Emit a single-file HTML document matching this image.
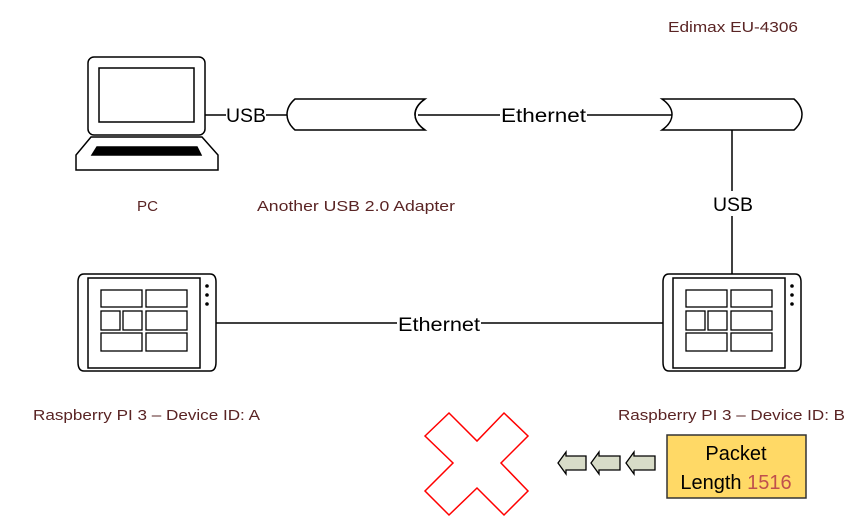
<!DOCTYPE html>
<html><head><meta charset="utf-8"><style>
html,body{margin:0;padding:0;background:#fff;}
svg{display:block;}
text{font-family:"Liberation Sans",sans-serif;}
</style></head><body>
<svg width="864" height="521" viewBox="0 0 864 521" xmlns="http://www.w3.org/2000/svg">
<g fill="#5a2424" font-size="15">
<text x="668" y="32" textLength="130" lengthAdjust="spacingAndGlyphs">Edimax EU-4306</text>
<text x="137" y="211" textLength="21" lengthAdjust="spacingAndGlyphs">PC</text>
<text x="257" y="211" textLength="198" lengthAdjust="spacingAndGlyphs">Another USB 2.0 Adapter</text>
<text x="33" y="420" textLength="227" lengthAdjust="spacingAndGlyphs">Raspberry PI 3 – Device ID: A</text>
<text x="618" y="420" textLength="227" lengthAdjust="spacingAndGlyphs">Raspberry PI 3 – Device ID: B</text>
</g>
<g stroke="#000" fill="none" stroke-width="1.5">
<!-- laptop -->
<rect x="88" y="57" width="117" height="78" rx="6" fill="#fff"/>
<rect x="99" y="68" width="95" height="54"/>
<path d="M91 137 L202 137 L218 155 L218 170 L76 170 L76 155 Z" fill="#fff"/>
<path d="M97 147 L197 147 L201 155 L92 155 Z" fill="#000"/>
<!-- lines -->
<line x1="205" y1="115" x2="226" y2="115"/>
<line x1="266" y1="115" x2="287" y2="115"/>
<line x1="418" y1="115" x2="500" y2="115"/>
<line x1="587" y1="115" x2="672" y2="115"/>
<line x1="732" y1="130" x2="732" y2="191"/>
<line x1="732" y1="216" x2="732" y2="274"/>
<line x1="216" y1="323" x2="397" y2="323"/>
<line x1="481" y1="323" x2="663" y2="323"/>
<!-- cable 1 -->
<path d="M295 99 L425 99 Q415 106 415 114.5 Q415 123 425 130 L295 130 Q287 123 287 114.5 Q287 106 295 99 Z" fill="#fff"/>
<path d="M425 99 Q415 106 415 114.5 Q415 123 425 130"/>
<!-- cable 2 -->
<path d="M662 99 L794 99 Q802 106 802 114.5 Q802 123 794 130 L662 130 Q672 123 672 114.5 Q672 106 662 99 Z" fill="#fff"/>
<!-- device A -->
<g id="dev">
<path d="M84 274 L210 274 Q216 274 216 282 L216 362 Q216 371 210 371 L84 371 Q78 371 78 362 L78 282 Q78 274 84 274 Z" fill="#fff"/>
<rect x="88" y="278" width="112" height="90"/>
<g stroke-width="1.3">
<rect x="101" y="290" width="41" height="17"/><rect x="146" y="290" width="41" height="17"/>
<rect x="101" y="311" width="19" height="19"/><rect x="123" y="311" width="19" height="19"/><rect x="146" y="311" width="41" height="19"/>
<rect x="101" y="333" width="41" height="18"/><rect x="146" y="333" width="41" height="18"/>
</g>
<circle cx="207" cy="286" r="1.8" fill="#000" stroke="none"/>
<circle cx="207" cy="295" r="1.8" fill="#000" stroke="none"/>
<circle cx="207" cy="304" r="1.8" fill="#000" stroke="none"/>
</g>
<use href="#dev" transform="translate(585,0)"/>
</g>
<g fill="#000" font-size="19">
<text x="226" y="122" textLength="40" lengthAdjust="spacingAndGlyphs">USB</text>
<text x="501" y="122" textLength="85" lengthAdjust="spacingAndGlyphs">Ethernet</text>
<text x="713" y="211" textLength="40" lengthAdjust="spacingAndGlyphs">USB</text>
<text x="398" y="331" textLength="82" lengthAdjust="spacingAndGlyphs">Ethernet</text>
</g>
<!-- red X -->
<polygon points="425,436 449,413 477,441 504,413 528,436 501,463 528,491 504,515 477,488 449,515 425,491 453,463" fill="none" stroke="#ff0000" stroke-width="1.5"/>
<!-- arrows -->
<g fill="#d8dcc8" stroke="#000" stroke-width="1.3">
<path d="M586 456 L566 456 L566 452 L558 463 L566 474 L566 470 L586 470 Z"/>
<path d="M620 456 L599 456 L599 452 L591 463 L599 474 L599 470 L620 470 Z"/>
<path d="M655 456 L634 456 L634 452 L626 463 L634 474 L634 470 L655 470 Z"/>
</g>
<!-- packet -->
<rect x="667" y="435" width="139" height="63" fill="#ffd966" stroke="#333" stroke-width="1.5"/>
<text x="736" y="460" font-size="20" text-anchor="middle" fill="#000">Packet</text>
<text x="736" y="489" font-size="20" text-anchor="middle" fill="#000">Length <tspan fill="#c0504d">1516</tspan></text>
</svg>
</body></html>
